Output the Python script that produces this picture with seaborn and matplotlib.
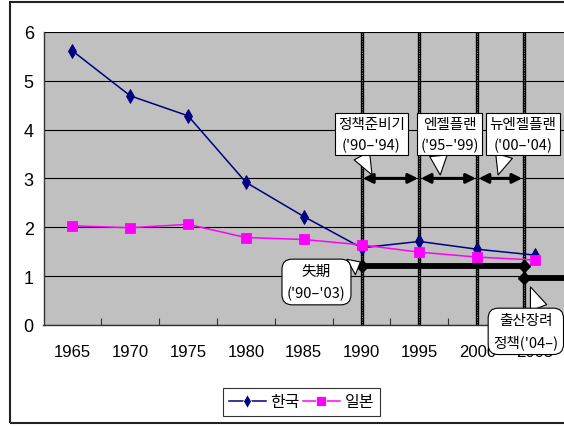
import matplotlib
matplotlib.use("Agg")
import matplotlib.pyplot as plt
import seaborn as sns
import pandas as pd
from matplotlib.patches import Rectangle
from matplotlib import font_manager

# --- data -----------------------------------------------------------------
years = [1965, 1970, 1975, 1980, 1985, 1990, 1995, 2000, 2005]
korea = [5.61, 4.69, 4.28, 2.92, 2.22, 1.58, 1.71, 1.55, 1.43]
japan = [2.03, 1.99, 2.06, 1.79, 1.75, 1.64, 1.49, 1.39, 1.33]
series_names = ["한국", "일본"]
y_ticks = [0, 1, 2, 3, 4, 5, 6]

# policy periods (start year, end year)
policy_bounds = [1990, 1995, 2000, 2004]
plan_labels = ["정책준비기\n('90–'94)", "엔젤플랜\n('95–'99)", "뉴엔젤플랜\n('00–'04)"]
lost_label = "失期\n('90–'03)"
promo_label = "출산장려\n정책('04–)"

KR = ["Noto Sans CJK KR", "DejaVu Sans"]
installed = {f.name for f in font_manager.fontManager.ttflist}
NARROW = "Liberation Sans Narrow" if "Liberation Sans Narrow" in installed else "Liberation Sans"

df = pd.DataFrame({
    "year": years * 2,
    "tfr": korea + japan,
    "country": [series_names[0]] * len(years) + [series_names[1]] * len(years),
})

fig = plt.figure(figsize=(5.64, 4.27), dpi=100)
ax = fig.add_axes([43.5 / 564, 1 - 326 / 427, 1 - 43.5 / 564, (326 - 32.8) / 427])
ax.set_facecolor("#C0C0C0")

# vertical period separators (thick dotted-look bars)
for x in policy_bounds:
    ax.axvline(x, color="black", lw=2.4, zorder=2)
    ax.axvline(x, color="#777777", lw=0.8, ls=(0, (1, 1.2)), zorder=2.1)

palette = {series_names[0]: "#000080", series_names[1]: "#FF00FF"}
markers = {series_names[0]: "d", series_names[1]: "s"}
sns.lineplot(data=df, x="year", y="tfr", hue="country", style="country",
             palette=palette, markers=markers, dashes=False, ax=ax,
             linewidth=1.1, markersize=7, markeredgewidth=0.6, zorder=4)
for ln in ax.lines:
    if ln.get_marker() == "s":
        ln.set_markersize(6.5)
        ln.set_markeredgecolor("#FF00FF")
    elif ln.get_marker() == "d":
        ln.set_markeredgecolor("#000080")

ax.set_xlim(1962.5, 2007.5)
ax.set_ylim(0, 6)

# double-headed arrows for each plan period
arrow_y = 3.0
for a, b in zip(policy_bounds[:-1], policy_bounds[1:]):
    ax.annotate("", xy=(b, arrow_y), xytext=(a, arrow_y),
                arrowprops=dict(arrowstyle="<|-|>", color="black", lw=2.2,
                                mutation_scale=14, shrinkA=1, shrinkB=1),
                zorder=6)

# lost period bar and birth-promotion bar
lost_y = 1.21
promo_y = 0.96
ax.plot([policy_bounds[0], policy_bounds[-1]], [lost_y, lost_y], color="black",
        lw=4.2, solid_capstyle="butt", marker="D", markersize=6.5, zorder=6)
ax.plot([policy_bounds[-1], 2009], [promo_y, promo_y], color="black",
        lw=4.2, solid_capstyle="butt", zorder=6)
ax.plot([policy_bounds[-1]], [promo_y], marker="D", color="black",
        markersize=6.5, zorder=6)

# callouts
sq_box = dict(boxstyle="square,pad=0.22", fc="white", ec="black", lw=0.8)
rd_box = dict(boxstyle="round,pad=0.35,rounding_size=0.7", fc="white", ec="black", lw=0.8)
FS = 10.5


def wedge(relpos):
    return dict(arrowstyle="wedge,tail_width=1.2,shrink_factor=0.5", fc="white",
                ec="black", lw=0.8, shrinkA=0, shrinkB=0, relpos=relpos)


plan_boxes = [(1990.85, 3.9), (1997.6, 3.9), (2003.95, 3.9)]
plan_tips = [(1990.9, 3.07), (1996.8, 3.07), (2001.8, 3.07)]
plan_rel = [(0.3, 0.1), (0.3, 0.1), (0.25, 0.1)]
for label, bx, tip, rp in zip(plan_labels, plan_boxes, plan_tips, plan_rel):
    ax.annotate(label, xy=tip, xytext=bx, ha="center", va="center",
                fontsize=FS, family=KR, linespacing=1.6, bbox=sq_box,
                arrowprops=wedge(rp), annotation_clip=False, zorder=7)

ax.annotate(lost_label, xy=(1989.9, 1.29), xytext=(1986.1, 0.88),
            ha="center", va="center", fontsize=FS, family=KR, linespacing=1.6,
            bbox=rd_box, arrowprops=wedge((0.9, 0.75)), annotation_clip=False,
            zorder=7)
ax.annotate(promo_label, xy=(2004.6, 0.78), xytext=(2004.2, -0.13),
            ha="center", va="center", fontsize=FS, family=KR, linespacing=1.6,
            bbox=rd_box, arrowprops=wedge((0.75, 0.9)), annotation_clip=False,
            zorder=8)

# axes styling
ax.set_yticks(y_ticks)
ax.yaxis.grid(True, color="black", lw=0.8)
ax.set_axisbelow(True)
ax.set_xticks(years)
ax.set_xticklabels([str(y) for y in years])
ax.set_xticks([1967.5 + 5 * i for i in range(9)], minor=True)
ax.tick_params(axis="x", which="major", length=0, pad=14)
ax.tick_params(axis="x", which="minor", direction="in", length=5, width=0.8, color="#333333")
ax.tick_params(axis="y", length=0, pad=7)
for lbl in ax.get_xticklabels():
    lbl.set_family([NARROW, "DejaVu Sans"])
    lbl.set_fontsize(12)
for lbl in ax.get_yticklabels():
    lbl.set_family(["Liberation Sans", "DejaVu Sans"])
    lbl.set_fontsize(13)
ax.set_xlabel("")
ax.set_ylabel("")
for side in ("top", "right"):
    ax.spines[side].set_visible(False)
for side in ("left", "bottom"):
    ax.spines[side].set_color("#333333")
    ax.spines[side].set_linewidth(1.0)

# legend
sns.move_legend(ax, loc="center", bbox_to_anchor=(301.5 / 564, 1 - 403 / 427),
                bbox_transform=fig.transFigure, ncol=2, title=None,
                frameon=True, fancybox=False, handlelength=2.3,
                handletextpad=0.3, columnspacing=0.2, borderpad=0.35,
                prop={"family": KR, "size": 11.5})
leg = ax.get_legend()
leg.get_frame().set_edgecolor("black")
leg.get_frame().set_linewidth(0.8)

# outer chart border
fig.add_artist(Rectangle((10 / 564, 1 - 424 / 427), 1.0, (424 - 3) / 427,
                         transform=fig.transFigure, fill=False,
                         ec="#222222", lw=1.5))

fig.savefig("out.png", dpi=100)
